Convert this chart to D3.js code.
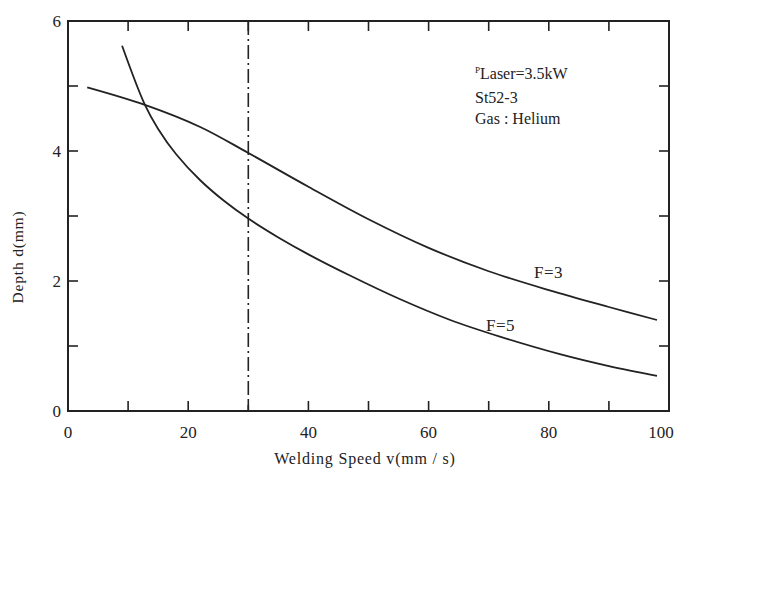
<!DOCTYPE html>
<html>
<head>
<meta charset="utf-8">
<script src="https://cdn.jsdelivr.net/npm/d3@7"></script>
<style>
  body { margin: 0; background: #fff; }
  svg text { font-family: "Liberation Serif", "DejaVu Serif", serif; fill: #222; }
</style>
</head>
<body>
<svg id="chart" width="768" height="614"></svg>
<script>
(function () {
    'use strict';

    // values
    var speedF3 = [3.2, 12.8, 22, 30, 40, 50, 60, 70, 80, 90, 98];
    var depthF3 = [4.98, 4.71, 4.37, 3.97, 3.45, 2.95, 2.51, 2.15, 1.86, 1.60, 1.40];
    var speedF5 = [9, 12.8, 15, 18, 22, 26, 30, 35, 40, 47, 55, 63.6, 72, 82, 90, 98];
    var depthF5 = [5.62, 4.71, 4.34, 3.95, 3.55, 3.23, 2.96, 2.67, 2.41, 2.08, 1.73, 1.40, 1.14, 0.87, 0.69, 0.54];
    var xLabelTicks = [0, 20, 40, 60, 80, 100];
    var xMinorTicks = [10, 20, 30, 40, 50, 60, 70, 80, 90];
    var yLabelTicks = [0, 2, 4, 6];
    var yMinorTicks = [1, 2, 3, 4, 5];
    var refSpeed = 30;

    var svg = d3.select('#chart');
    var left = 68, right = 669, top = 21, bottom = 411;

    var x = d3.scaleLinear().domain([0, 100]).range([left, right]);
    var y = d3.scaleLinear().domain([0, 6]).range([bottom, top]);

    var ink = '#222';

    // frame
    svg.append('rect')
        .attr('x', left).attr('y', top)
        .attr('width', right - left).attr('height', bottom - top)
        .attr('fill', 'none').attr('stroke', ink).attr('stroke-width', 2);

    // inward ticks on all four sides
    var tickLen = 10;
    svg.append('g').selectAll('line')
        .data(xMinorTicks).enter().append('line')
        .attr('x1', d => x(d)).attr('x2', d => x(d))
        .attr('y1', bottom).attr('y2', bottom - tickLen)
        .attr('stroke', ink).attr('stroke-width', 1.6);
    svg.append('g').selectAll('line')
        .data(xMinorTicks).enter().append('line')
        .attr('x1', d => x(d)).attr('x2', d => x(d))
        .attr('y1', top).attr('y2', top + tickLen)
        .attr('stroke', ink).attr('stroke-width', 1.6);
    svg.append('g').selectAll('line')
        .data(yMinorTicks).enter().append('line')
        .attr('x1', left).attr('x2', left + tickLen)
        .attr('y1', d => y(d)).attr('y2', d => y(d))
        .attr('stroke', ink).attr('stroke-width', 1.6);
    svg.append('g').selectAll('line')
        .data(yMinorTicks).enter().append('line')
        .attr('x1', right).attr('x2', right - tickLen)
        .attr('y1', d => y(d)).attr('y2', d => y(d))
        .attr('stroke', ink).attr('stroke-width', 1.6);

    // tick labels
    svg.append('g').selectAll('text')
        .data(xLabelTicks).enter().append('text')
        .attr('x', d => x(d) - (d === 100 ? 8 : 0))
        .attr('y', bottom + 27)
        .attr('text-anchor', 'middle')
        .style('font-size', '17px')
        .text(d => d);
    svg.append('g').selectAll('text')
        .data(yLabelTicks).enter().append('text')
        .attr('x', left - 7)
        .attr('y', d => y(d) + 6)
        .attr('text-anchor', 'end')
        .style('font-size', '17px')
        .text(d => d);

    // axis titles
    svg.append('text')
        .attr('x', 365).attr('y', 464)
        .attr('text-anchor', 'middle')
        .style('font-size', '16px')
        .style('letter-spacing', '0.8px')
        .text('Welding Speed v(mm / s)');
    svg.append('text')
        .attr('transform', 'translate(23,' + 257 + ') rotate(-90)')
        .attr('text-anchor', 'middle')
        .style('font-size', '15.5px')
        .style('letter-spacing', '0.8px')
        .text('Depth d(mm)');

    // dash-dot reference line
    svg.append('line')
        .attr('x1', x(refSpeed)).attr('x2', x(refSpeed))
        .attr('y1', y(6)).attr('y2', y(0))
        .attr('stroke', ink).attr('stroke-width', 1.6)
        .attr('stroke-dasharray', '14,4,2,4');

    // curves
    var line = d3.line()
        .x(d => x(d[0])).y(d => y(d[1]))
        .curve(d3.curveCatmullRom.alpha(0.5));

    [[speedF3, depthF3], [speedF5, depthF5]].forEach(function (s) {
        svg.append('path')
            .datum(d3.zip(s[0], s[1]))
            .attr('d', line)
            .attr('fill', 'none')
            .attr('stroke', ink)
            .attr('stroke-width', 1.8);
    });

    // curve labels
    svg.append('text').attr('x', 534).attr('y', 278)
        .style('font-size', '17px').style('letter-spacing', '0.5px').text('F=3');
    svg.append('text').attr('x', 486).attr('y', 331)
        .style('font-size', '17px').style('letter-spacing', '0.5px').text('F=5');

    // annotation
    var note = svg.append('g').style('font-size', '16px');
    var t1 = note.append('text').attr('x', 475).attr('y', 79);
    t1.append('tspan').style('font-size', '9px').attr('dy', -6).text('P');
    t1.append('tspan').attr('dy', 6).text('Laser=3.5kW');
    note.append('text').attr('x', 475).attr('y', 103).text('St52-3');
    note.append('text').attr('x', 475).attr('y', 124).text('Gas : Helium');
}());
</script>
</body>
</html>
